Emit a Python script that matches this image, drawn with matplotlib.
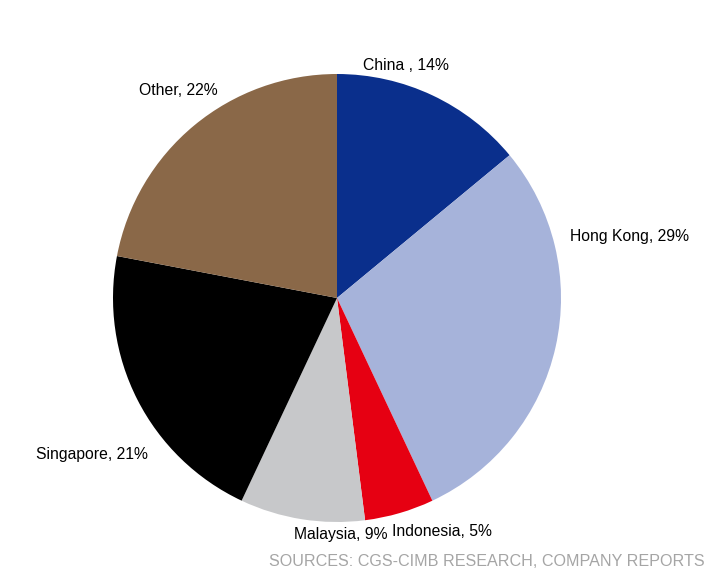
import matplotlib
matplotlib.use("Agg")
import matplotlib.pyplot as plt

# Revenue split by market (%)
markets = ["China ", "Hong Kong", "Indonesia", "Malaysia", "Singapore", "Other"]
shares = [14, 29, 5, 9, 21, 22]
colors = ["#0A2F8C", "#A6B3DA", "#E60012", "#C7C8CA", "#000000", "#8A6848"]

# label anchor points in pixel space (x, y from top)
label_pos = [(406, 65), (630, 236), (442, 532), (341, 535), (92, 454), (178, 90)]

W, H = 706, 569
plt.rcParams["font.family"] = ["Liberation Sans", "DejaVu Sans"]

fig = plt.figure(figsize=(W / 100, H / 100), dpi=100)
ax = fig.add_axes([0, 0, 1, 1])

ax.pie(shares, colors=colors, startangle=90, counterclock=False,
       center=(337, H - 298), radius=224, frame=True,
       wedgeprops=dict(linewidth=0))
ax.set_xlim(0, W)
ax.set_ylim(0, H)
ax.set_aspect("equal")
ax.axis("off")

for name, val, (x, y) in zip(markets, shares, label_pos):
    ax.text(x, H - y, f"{name}, {val}%", ha="center", va="center",
            fontsize=11.3, color="black")

ax.text(W - 1, H - 562, "SOURCES: CGS-CIMB RESEARCH, COMPANY REPORTS",
        ha="right", va="center", fontsize=11.6, color="#A5A5A5")

plt.savefig("out.png", dpi=100)
plt.close()
